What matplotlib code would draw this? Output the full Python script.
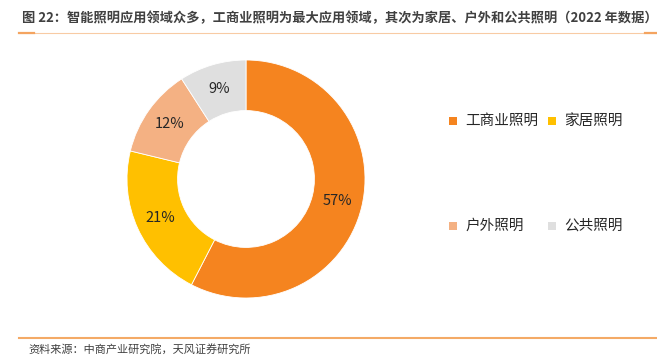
import matplotlib
matplotlib.use('Agg')
import matplotlib.pyplot as plt
from matplotlib.lines import Line2D
from matplotlib.patches import Rectangle

plt.rcParams['font.family'] = ['Noto Sans CJK SC', 'DejaVu Sans']

categories = ['工商业照明', '家居照明', '户外照明', '公共照明']
shares = [57, 21, 12, 9]
colors = ['#F5841F', '#FFC000', '#F4B183', '#DFDFDF']

title = '图 22：智能照明应用领域众多，工商业照明为最大应用领域，其次为家居、户外和公共照明（2022 年数据）'
source = '资料来源：中商产业研究院，天风证券研究所'

W, H = 657, 364
fig = plt.figure(figsize=(W / 100, H / 100), dpi=100)

# donut
cx, cy, r = 246, 179, 119
ax = fig.add_axes([(cx - r) / W, (H - cy - r) / H, 2 * r / W, 2 * r / H])
wedges, texts, autotexts = ax.pie(
    shares, colors=colors, startangle=90, counterclock=False, radius=1,
    autopct=lambda p: f'{p * sum(shares) / 100:.0f}%', pctdistance=0.79,
    wedgeprops=dict(width=0.425, edgecolor='white', linewidth=0.6),
    textprops=dict(fontsize=10.5, color='#262626'))
ax.set_xlim(-1, 1)
ax.set_ylim(-1, 1)
ax.set_aspect('equal')
ax.axis('off')

# legend, two rows spaced apart
leg_pos = [(453, 121), (552, 121), (453, 226), (552, 226)]
for (lx, ly), name, col in zip(leg_pos, categories, colors):
    fig.patches.append(Rectangle(((lx - 4) / W, (H - ly - 4) / H), 8 / W, 8 / H,
                                 transform=fig.transFigure, facecolor=col,
                                 edgecolor='none'))
    fig.text((lx + 12) / W, (H - ly) / H, name, fontsize=10.5, color='#262626',
             va='center', ha='left')

# title and rules
fig.text(22 / W, (H - 18) / H, title, fontsize=9.5, fontweight='bold',
         color='#404040', va='center', ha='left')
fig.add_artist(Line2D([19 / W, 1], [(H - 32.5) / H] * 2, color='#F8CBA4',
                      linewidth=0.8, transform=fig.transFigure))
fig.add_artist(Line2D([19 / W, 34 / W], [(H - 32.5) / H] * 2, color='#F4A460',
                      linewidth=1.6, transform=fig.transFigure))
fig.add_artist(Line2D([645 / W, 1], [(H - 32.5) / H] * 2, color='#F4A460',
                      linewidth=1.6, transform=fig.transFigure))
fig.add_artist(Line2D([19 / W, 1], [(H - 337.5) / H] * 2, color='#F4AA66',
                      linewidth=1.5, transform=fig.transFigure))

fig.text(28 / W, (H - 349) / H, source, fontsize=8, color='#404040',
         va='center', ha='left')

fig.savefig('out.png', dpi=100)
